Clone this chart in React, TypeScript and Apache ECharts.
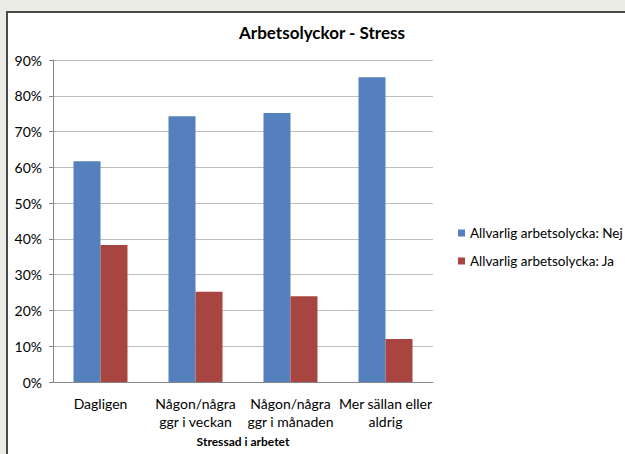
import React, { useEffect, useRef } from "react";
import * as echarts from "echarts";

const categories = [
  "Dagligen",
  "Någon/några\nggr i veckan",
  "Någon/några\nggr i månaden",
  "Mer sällan eller\naldrig",
];
const seriesNames = ["Allvarlig arbetsolycka: Nej", "Allvarlig arbetsolycka: Ja"];
const nejValues = [61.7, 74.3, 75.2, 85.2];
const jaValues = [38.3, 25.2, 24.0, 12.0];
const yMin = 0;
const yMax = 90;
const yInterval = 10;

const FONT = "Lato, 'Noto Sans', sans-serif";

export default function App() {
  const ref = useRef<HTMLDivElement>(null);
  useEffect(() => {
    if (!ref.current) return;
    const chart = echarts.init(ref.current, undefined, { renderer: "svg" });
    chart.setOption({
      animation: false,
      textStyle: { fontFamily: FONT },
      title: {
        text: "Arbetsolyckor - Stress",
        left: 322,
        textAlign: "center",
        top: 24,
        padding: 0,
        textStyle: { fontFamily: FONT, fontSize: 17, fontWeight: "bold", color: "#000" },
      },
      legend: {
        orient: "vertical",
        left: 458,
        top: 226,
        padding: 0,
        itemWidth: 7,
        itemHeight: 7,
        itemGap: 14,
        icon: "rect",
        data: seriesNames,
        textStyle: { fontFamily: FONT, fontSize: 13.5, color: "#000", lineHeight: 14 },
      },
      grid: { left: 53, right: 192, top: 60, bottom: 72 },
      xAxis: {
        type: "category",
        data: categories,
        name: "Stressad i arbetet",
        nameLocation: "middle",
        nameGap: 53,
        nameTextStyle: { fontFamily: FONT, fontSize: 12, fontWeight: "bold", color: "#000" },
        axisLine: { lineStyle: { color: "#868686" } },
        axisTick: { length: 5, lineStyle: { color: "#868686" } },
        axisLabel: {
          interval: 0,
          margin: 12,
          fontFamily: FONT,
          fontSize: 14,
          lineHeight: 18,
          color: "#000",
        },
      },
      yAxis: {
        type: "value",
        min: yMin,
        max: yMax,
        interval: yInterval,
        axisLine: { show: true, lineStyle: { color: "#868686" } },
        axisTick: { show: true, length: 4, lineStyle: { color: "#868686" } },
        axisLabel: {
          formatter: "{value}%",
          margin: 11,
          fontFamily: FONT,
          fontSize: 14,
          color: "#000",
        },
        splitLine: { lineStyle: { color: "#bdbdbd" } },
      },
      series: [
        {
          name: seriesNames[0],
          type: "bar",
          data: nejValues,
          barWidth: 27,
          barGap: "0%",
          itemStyle: { color: "#5580BE" },
        },
        {
          name: seriesNames[1],
          type: "bar",
          data: jaValues,
          barWidth: 27,
          barGap: "0%",
          itemStyle: { color: "#A94541" },
        },
      ],
    });
    return () => chart.dispose();
  }, []);

  return (
    <div style={{ position: "fixed", left: 0, top: 0, width: 625, height: 454, background: "#ecece7", overflow: "hidden" }}>
      <div
        style={{
          position: "absolute",
          left: 6,
          top: 11,
          width: 640,
          height: 460,
          background: "#fff",
          borderLeft: "2px solid #4a4a4a",
          borderTop: "2px solid #4a4a4a",
        }}
      />
      <div ref={ref} style={{ position: "absolute", left: 0, top: 0, width: 625, height: 454 }} />
    </div>
  );
}
